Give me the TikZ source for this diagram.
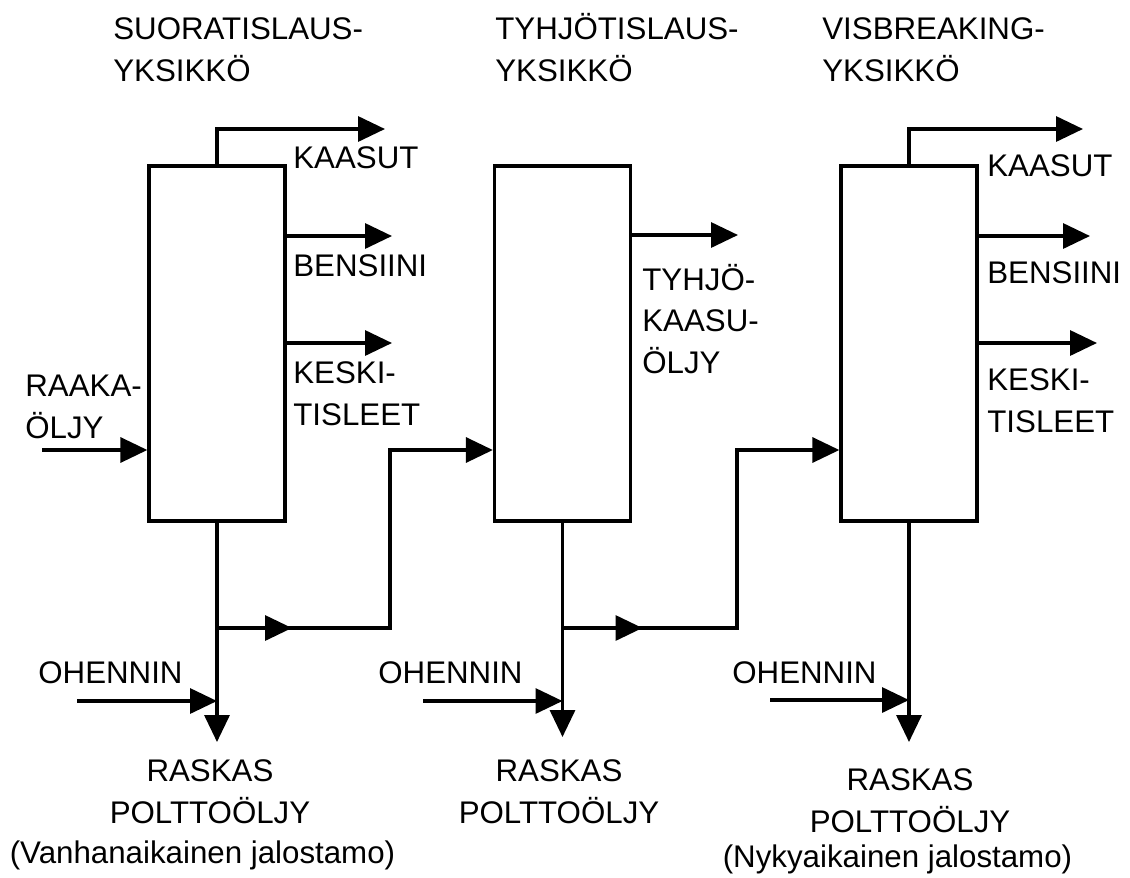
\documentclass[tikz,border=0pt]{standalone}
\usepackage{fontspec}
\setmainfont{Liberation Sans}
\usetikzlibrary{arrows.meta}

\tikzset{
  pipe/.style={line width=1.9pt},
  flow/.style={pipe, -{Triangle[length=0.54cm,width=0.5cm]}},
  colbox/.style={draw, line width=1.9pt, minimum width=2.72cm, minimum height=7.1cm, inner sep=0pt},
  lbl/.style={inner sep=0pt, align=left, font=\fontsize{17.8}{23.6}\selectfont},
}

\begin{document}
\begin{tikzpicture}[x=0.02cm, y=-0.02cm]
\useasboundingbox (0,0) rectangle (1130,877);

% columns
\node[colbox] (box1) at (217,343.5) {};
\node[colbox] (box2) at (562.5,343.5) {};
\node[colbox] (box3) at (909,343.5) {};

% titles (base = last line)
\node[lbl, anchor=base west] (title1) at (113,81) {SUORATISLAUS-\\YKSIKKÖ};
\node[lbl, anchor=base west] (title2) at (495,81) {TYHJÖTISLAUS-\\YKSIKKÖ};
\node[lbl, anchor=base west] (title3) at (822,81) {VISBREAKING-\\YKSIKKÖ};

% free ends
\coordinate (crude) at (42,450);
\coordinate (gas1) at (385,129);
\coordinate (ben1) at (392,236);
\coordinate (mid1) at (392,343);
\coordinate (split1) at (217,628);
\coordinate (turn1) at (390,450);
\coordinate (thin1) at (77,701);
\coordinate (fuel1) at (217,742);

\coordinate (vgo2) at (738,235);
\coordinate (split2) at (562.5,628);
\coordinate (turn2) at (737,450);
\coordinate (thin2) at (423,701);
\coordinate (fuel2) at (562.5,737);

\coordinate (gas3) at (1083,129);
\coordinate (ben3) at (1090,236);
\coordinate (mid3) at (1097,343);
\coordinate (thin3) at (770,700);
\coordinate (fuel3) at (909,742);

% first unit
\draw[flow] (crude) -- (crude -| box1.west);
\draw[flow] (box1.north) |- (gas1);
\draw[flow] (ben1 -| box1.east) -- (ben1);
\draw[flow] (mid1 -| box1.east) -- (mid1);
\draw[flow] (box1.south) -- (fuel1);
\draw[flow] (split1) -- ++(75,0);
\draw[flow] (split1) -| (turn1) -- (turn1 -| box2.west);
\draw[flow] (thin1) -- (thin1 -| box1.south);

% second unit
\draw[flow] (vgo2 -| box2.east) -- (vgo2);
\draw[flow] (box2.south) -- (fuel2);
\draw[flow] (split2) -- ++(80,0);
\draw[flow] (split2) -| (turn2) -- (turn2 -| box3.west);
\draw[flow] (thin2) -- (thin2 -| box2.south);

% third unit
\draw[flow] (box3.north) |- (gas3);
\draw[flow] (ben3 -| box3.east) -- (ben3);
\draw[flow] (mid3 -| box3.east) -- (mid3);
\draw[flow] (box3.south) -- (fuel3);
\draw[flow] (thin3) -- (thin3 -| box3.south);

% labels
\node[lbl, anchor=base west] (crudelbl) at (25,438) {RAAKA-\\ÖLJY};
\node[lbl, anchor=base west] (gas1lbl) at (293,168) {KAASUT};
\node[lbl, anchor=base west] (ben1lbl) at (293,276) {BENSIINI};
\node[lbl, anchor=base west] (mid1lbl) at (293,425) {KESKI-\\TISLEET};
\node[lbl, anchor=base west] (thin1lbl) at (38,683) {OHENNIN};
\node[lbl, anchor=base, align=center] (fuel1lbl) at (210,823) {RASKAS\\POLTTOÖLJY};
\node[lbl, anchor=base] (old) at (202.5,863) {(Vanhanaikainen jalostamo)};

\node[lbl, anchor=base west] (vgolbl) at (642,373) {TYHJÖ-\\KAASU-\\ÖLJY};
\node[lbl, anchor=base west] (thin2lbl) at (378,683) {OHENNIN};
\node[lbl, anchor=base, align=center] (fuel2lbl) at (559,823) {RASKAS\\POLTTOÖLJY};

\node[lbl, anchor=base west] (gas3lbl) at (987,176) {KAASUT};
\node[lbl, anchor=base west] (ben3lbl) at (987,283) {BENSIINI};
\node[lbl, anchor=base west] (mid3lbl) at (987,432) {KESKI-\\TISLEET};
\node[lbl, anchor=base west] (thin3lbl) at (732,683) {OHENNIN};
\node[lbl, anchor=base, align=center] (fuel3lbl) at (910,832) {RASKAS\\POLTTOÖLJY};
\node[lbl, anchor=base] (new) at (897.5,867) {(Nykyaikainen jalostamo)};
\end{tikzpicture}
\end{document}
